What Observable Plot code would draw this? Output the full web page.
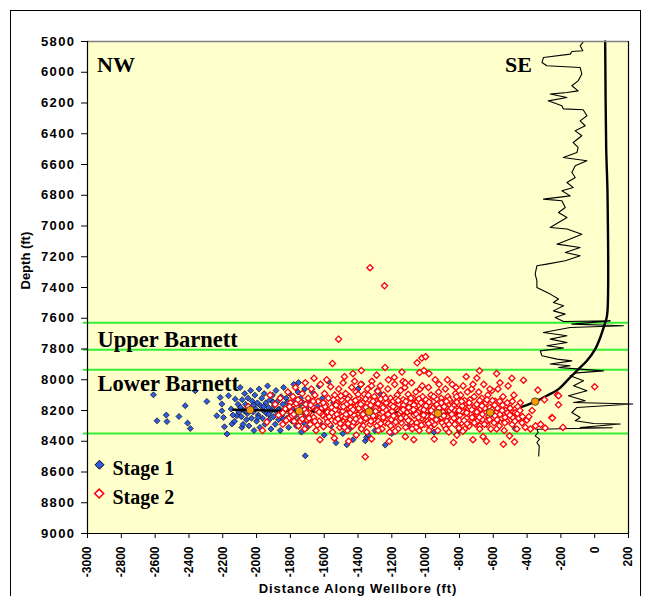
<!DOCTYPE html>
<html><head><meta charset="utf-8">
<script src="https://cdn.jsdelivr.net/npm/d3@7"></script>
<script src="https://cdn.jsdelivr.net/npm/@observablehq/plot@0.6"></script>
<style>
body{margin:0;background:#fff;}
#wrap{position:relative;width:645px;height:596px;overflow:hidden;background:#fff;}
#wrap svg{position:absolute;left:0;top:0;}
#border{position:absolute;left:10px;top:10px;width:631px;height:640px;border:1.3px solid #000;box-sizing:border-box;pointer-events:none;}
</style></head><body><div id="wrap"><div id="border"></div></div>
<script>
// ---- data ----
const xTicks = [-3000,-2800,-2600,-2400,-2200,-2000,-1800,-1600,-1400,-1200,-1000,-800,-600,-400,-200,0,200];
const yTicks = [5800,6000,6200,6400,6600,6800,7000,7200,7400,7600,7800,8000,8200,8400,8600,8800,9000];
const seriesNames = ["Stage 1","Stage 2"];
const zoneNames = ["Upper Barnett","Lower Barnett"];
const sideNames = ["NW","SE"];
const formationTops = [7630, 7805, 7935, 8350];
const perfX = [-2038,-1748,-1334,-927,-618,-352];
const perfDepth = [8197,8204,8208,8219,8213,8142];
const wellbore = [[62,5800],[68,6490],[76,6800],[76,7550],[70,7600],[62,7628],[33,7725],[3,7801],[-46,7877],[-96,7931],[-155,7996],[-214,8061],[-283,8104],[-352,8142],[-441,8180],[-519,8200],[-618,8213],[-927,8219],[-1334,8208],[-1748,8204],[-2038,8197],[-2138,8195]];
const gammaLog = [[-66,5800],[-86,5828],[-70,5860],[-135,5865],[-145,5882],[-303,5904],[-312,5937],[-283,5958],[-86,5969],[-76,6012],[-98,6056],[-135,6088],[-98,6121],[-164,6132],[-263,6142],[-164,6164],[-275,6186],[-194,6218],[-186,6238],[-68,6244],[-46,6283],[-86,6316],[-56,6348],[-115,6381],[-76,6413],[-127,6457],[-98,6489],[-105,6522],[-186,6554],[-46,6576],[-115,6608],[-135,6652],[-115,6685],[-164,6717],[-127,6750],[-194,6771],[-145,6804],[-303,6825],[-194,6836],[-174,6880],[-214,6912],[-164,6945],[-214,6977],[-263,7010],[-164,7020],[-76,7053],[-145,7085],[-223,7118],[-86,7140],[-174,7172],[-86,7194],[-174,7226],[-283,7248],[-342,7259],[-352,7313],[-342,7356],[-342,7400],[-263,7443],[-214,7475],[-244,7498],[-184,7519],[-244,7552],[-174,7573],[-234,7595],[-184,7621],[92,7617],[-135,7638],[170,7649],[-145,7660],[-303,7693],[-164,7714],[-263,7736],[-164,7758],[-283,7779],[-184,7794],[-322,7812],[-312,7844],[-223,7866],[-135,7877],[-263,7898],[-145,7909],[-214,7920],[-86,7931],[52,7942],[-105,7955],[-145,7974],[-66,8007],[-125,8039],[-46,8072],[-155,8104],[-56,8137],[-125,8148],[225,8158],[-105,8180],[-135,8213],[-86,8246],[-115,8267],[-7,8285],[151,8288],[-86,8311],[104,8312],[-342,8322],[-334,8343],[-352,8365],[-326,8386],[-342,8408],[-328,8430],[-331,8495]];
const stage1 = [[-2610,8098],[-2589,8267],[-2534,8230],[-2530,8272],[-2459,8239],[-2422,8169],[-2408,8282],[-2392,8317],[-2363,8072],[-2294,8141],[-2235,8234],[-2215,8115],[-2205,8158],[-2205,8202],[-2196,8245],[-2190,8306],[-2175,8353],[-2166,8104],[-2146,8288],[-2126,8126],[-2116,8234],[-2097,8050],[-2087,8310],[-1752,8018],[-1712,8495],[-1466,8423],[-1357,8397],
[-2150,8190],[-2140,8230],[-2130,8270],[-2110,8160],[-2105,8210],
[-2095,8180],[-2090,8240],[-2085,8130],[-2080,8290],[-2075,8200],[-2070,8090],[-2065,8160],[-2060,8260],[-2055,8220],[-2050,8120],[-2045,8300],[-2040,8180],[-2035,8070],[-2030,8250],[-2025,8140],[-2020,8210],[-2015,8330],[-2010,8100],[-2005,8190],[-2000,8270],[-1995,8150],[-1990,8230],[-1985,8060],[-1980,8310],[-1975,8170],[-1970,8120],[-1965,8250],[-1960,8200],[-1955,8090],[-1950,8290],[-1945,8150],[-1940,8220],[-1935,8040],[-1930,8180],[-1925,8260],[-1920,8130],[-1915,8320],[-1910,8200],[-1905,8100],[-1900,8240],[-1895,8170],[-1890,8290],[-1885,8070],[-1880,8210],[-1875,8140],[-1870,8260],[-1865,8190],[-1860,8330],[-1855,8110],[-1850,8230],[-1845,8160],[-1840,8050],[-1835,8280],[-1830,8200],[-1825,8120],[-1820,8250],[-1815,8180],[-1810,8310],[-1805,8090],[-1800,8220],[-1795,8150],[-1790,8270],[-1785,8190],[-1780,8030],[-1775,8240],[-1770,8130],[-1765,8300],[-1760,8210],[-1755,8080],[-1750,8170],[-1745,8260],[-1740,8120],[-1735,8340],[-1730,8200],[-1725,8150],[-1720,8280],[-1715,8060],[-1710,8230],[-1705,8180],[-1700,8310],
[-2062,8205],[-2018,8165],[-1992,8245],[-1958,8175],[-1928,8225],[-1902,8145],[-1872,8195],[-1842,8255],[-1818,8145],[-1788,8225],
[-1690,8140],[-1680,8250],[-1670,8080],[-1660,8200],[-1650,8330],[-1640,8170],[-1630,8040],[-1620,8290],[-1610,8120],[-1600,8360],[-1590,8230],[-1575,8010],[-1560,8300],[-1545,8150],[-1530,8410],[-1510,8260],[-1490,8350],[-1470,8100],[-1450,8320],[-1430,8390],[-1400,8060],[-1377,8028],[-1288,8072],[-1268,8093],[-1350,8375],[-1340,8360],[-1239,8425],[-1300,8330],[-578,8267],[-470,8319],[-1100,8300],[-950,8340],[-800,8330],[-1200,8350]];
const stage2 = [[-1890,8160],[-1870,8230],[-1860,8120],[-1845,8290],[-1830,8190],[-1815,8080],[-1808,8250],[-1800,8150],[-1939,8275],[-2049,8175],[-1965,8330],[-1920,8100],
[-1795,8210],[-1785,8110],[-1778,8270],[-1770,8050],[-1760,8180],[-1752,8300],[-1745,8140],[-1738,8235],[-1730,8090],[-1722,8200],[-1715,8320],[-1708,8160],[-1702,8260],[-1712,8020],
[-1695,8120],[-1690,8215],[-1683,8290],[-1676,8060],[-1670,8175],[-1662,8245],[-1655,8100],[-1648,8330],[-1642,8200],[-1636,8140],[-1630,8270],[-1622,8030],[-1615,8185],[-1610,8230],[-1604,8305],[-1660,7990],[-1625,8390],
[-1598,8090],[-1592,8160],[-1587,8250],[-1580,8210],[-1575,8120],[-1568,8290],[-1562,8045],[-1556,8180],[-1550,8340],[-1545,8235],[-1538,8100],[-1532,8270],[-1527,8150],[-1520,8200],[-1514,8060],[-1508,8310],[-1503,8175],[-1551,7894],[-1515,7736],[-1585,8000],[-1540,8380],
[-1497,8130],[-1492,8240],[-1488,8020],[-1483,8195],[-1478,8290],[-1473,8090],[-1468,8160],[-1462,8330],[-1457,8220],[-1452,8110],[-1447,8260],[-1442,8180],[-1437,8050],[-1432,8300],[-1427,8145],[-1422,8230],[-1417,8200],[-1412,8080],[-1407,8275],[-1402,8165],[-1480,7980],[-1430,7960],[-1455,8400],[-1410,8360],
[-1398,8120],[-1393,8250],[-1388,8200],[-1383,8030],[-1378,8310],[-1373,8150],[-1368,8270],[-1363,8095],[-1358,8215],[-1353,8180],[-1348,8340],[-1343,8060],[-1338,8240],[-1333,8130],[-1328,8290],[-1323,8200],[-1318,8010],[-1313,8170],[-1308,8260],[-1303,8110],[-1357,8501],[-1380,7940],[-1329,7271],[-1320,8385],
[-1298,8230],[-1293,8140],[-1288,8300],[-1283,8075],[-1278,8190],[-1273,8250],[-1268,8040],[-1263,8165],[-1258,8320],[-1253,8210],[-1248,8100],[-1243,7389],[-1238,8280],[-1233,8150],[-1228,8230],[-1223,8060],[-1218,8190],[-1213,8340],[-1208,8120],[-1203,8260],[-1290,7970],[-1240,7920],[-1215,8400],
[-1198,8205],[-1193,8140],[-1188,8290],[-1183,8030],[-1178,8180],[-1173,8250],[-1168,8100],[-1163,8320],[-1158,8160],[-1153,8220],[-1148,8070],[-1143,8280],[-1138,8190],[-1133,8130],[-1128,8240],[-1123,8050],[-1118,8310],[-1113,8170],[-1108,8210],[-1103,8095],[-1185,7985],[-1140,7950],[-1120,8370],
[-1098,8260],[-1093,8150],[-1088,8200],[-1083,8020],[-1078,8300],[-1073,8120],[-1068,8230],[-1063,8180],[-1058,8080],[-1053,8280],[-1048,8140],[-1043,8210],[-1038,8330],[-1033,8060],[-1028,8190],[-1023,8250],[-1018,8110],[-1013,8165],[-1008,8290],[-1003,8220],[-1050,7890],[-1010,7940],[-1070,8390],[-1022,7859],[-1036,7953],[-1134,8011],
[-998,8130],[-993,8200],[-988,8270],[-983,8050],[-978,8170],[-973,8310],[-968,8100],[-963,8240],[-958,8185],[-953,8140],[-948,8290],[-943,8000],[-938,8220],[-933,8160],[-928,8330],[-923,8080],[-918,8250],[-913,8195],[-908,8120],[-903,8280],[-980,7960],[-949,8386],[-1000,7850],
[-898,8210],[-893,8150],[-888,8300],[-883,8060],[-878,8180],[-873,8240],[-868,8110],[-863,8340],[-858,8200],[-853,8140],[-848,8270],[-843,8030],[-838,8220],[-833,8170],[-828,8290],[-823,8090],[-818,8250],[-813,8190],[-808,8130],[-803,8315],[-871,8000],[-835,8408],[-815,8360],
[-798,8230],[-793,8100],[-788,8280],[-783,8170],[-778,8040],[-773,8210],[-768,8320],[-763,8150],[-758,8250],[-753,8080],[-748,8190],[-743,8300],[-738,8130],[-733,8220],[-728,8060],[-723,8270],[-718,8180],[-713,8110],[-708,8240],[-703,8290],[-760,7980],[-720,8390],
[-698,8160],[-692,8230],[-686,8080],[-681,7942],[-697,7989],[-680,8300],[-674,8190],[-668,8120],[-662,8260],[-656,8030],[-650,8210],[-644,8150],[-638,8290],[-632,8100],[-626,8240],[-620,8180],[-614,8320],[-608,8070],[-602,8250],[-640,8400],[-660,8370],
[-595,8280],[-588,8140],[-580,8210],[-572,8060],[-565,8300],[-557,8180],[-550,8250],[-542,8110],[-535,8330],[-527,8200],[-520,8270],[-512,8040],[-505,8160],[-580,7960],[-540,8420],[-504,8365],
[-497,8230],[-488,8290],[-478,8100],[-474,8404],[-470,8190],[-460,8320],[-450,8250],[-440,8150],[-430,8280],[-421,8003],[-410,8310],[-490,7990],[-401,8262],
[-390,8240],[-380,8320],[-370,8200],[-350,8300],[-336,8067],[-320,8290],[-297,8130],[-293,8314],[-253,8246],[-250,8249],[-220,8098],[-214,8163],[-214,8104],[-188,8310],[0,8046],
[-1490,8205],[-1475,8245],[-1460,8125],[-1445,8215],[-1425,8275],[-1415,8135],[-1395,8185],[-1385,8265],[-1370,8225],[-1355,8125],[-1340,8205],[-1325,8165],[-1310,8235],[-1295,8185],[-1280,8270],[-1265,8125],[-1250,8245],[-1235,8195],[-1220,8285],[-1205,8165],[-1190,8235],[-1175,8125],[-1160,8265],[-1145,8205],[-1130,8165],[-1115,8245],[-1100,8180],[-1085,8275],[-1070,8165],[-1055,8225],[-1040,8125],[-1025,8295],[-1010,8195],[-995,8235],[-980,8145],[-965,8275],[-950,8215],[-935,8125],[-920,8185],[-905,8245],[-890,8175],[-875,8270],[-860,8130],[-845,8225],[-830,8195],[-815,8145],[-800,8265],[-785,8205],[-770,8135],[-755,8285],[-740,8175],[-725,8245],[-710,8205],[-695,8270],[-680,8135],[-665,8225],[-650,8185],[-635,8265],[-620,8215],[-605,8135],[-590,8235],[-575,8185],[-560,8225],[-545,8165],[-530,8245],[-515,8215],[-500,8185],[-485,8245],[-470,8215],[-455,8175],
[-1790,8235],[-1765,8155],[-1740,8270],[-1715,8195],[-1690,8250],[-1665,8140],[-1640,8295],[-1620,8215],[-1595,8175],[-1570,8240],[-1545,8130],[-1525,8225],[-1505,8285],
[-1535,8195],[-1518,8255],[-1502,8105],[-1486,8175],[-1471,8225],[-1458,8285],[-1444,8145],[-1429,8195],[-1413,8255],[-1399,8095],[-1384,8160],[-1369,8300],[-1354,8250],[-1339,8100],[-1324,8270],[-1311,8140],[-1296,8205],[-1281,8155],[-1266,8285],[-1252,8180],[-1237,8120],[-1222,8225],[-1207,8300],[-1192,8175],[-1177,8275],[-1162,8135],[-1147,8250],[-1132,8195],[-1117,8140],[-1102,8265],[-1087,8120],[-1072,8195],[-1057,8310],[-1042,8245],[-1027,8150],[-1012,8230],[-997,8170],[-982,8285],[-967,8200],[-952,8110],[-937,8260],[-922,8215],[-907,8150],[-892,8235],[-877,8140],[-862,8290],[-847,8185],[-832,8250],[-817,8110],[-802,8200],[-787,8140],[-772,8265],[-757,8215],[-742,8150],[-727,8195],[-712,8280],[-697,8210],[-682,8245],[-667,8170],[-652,8290],[-637,8130],[-622,8260],[-607,8195],[-592,8165],[-577,8260],[-562,8140],[-547,8200],[-532,8280],[-517,8150],[-502,8230],[-487,8140],[-472,8270],[-457,8220],[-442,8200],[-427,8240],
[-1845,8215],[-1825,8265],[-1805,8175],[-1780,8225],[-1755,8130],[-1730,8255],[-1705,8215],[-1680,8165],[-1655,8270],[-1630,8210],[-1605,8150],[-1580,8275],[-1555,8215],[-1530,8165],
[-1480,8310],[-1380,8320],[-1280,8330],[-1180,8335],[-1080,8320],[-980,8330],[-880,8320],[-780,8335],[-680,8320],[-580,8320],
[-1420,8010],[-1320,8040],[-1220,8000],[-1120,8020],[-1020,8040],[-920,8030],[-820,8050],[-720,8030],[-620,8060],[-560,8020]];

const perfs = perfX.map((x, i) => ({x, d: perfDepth[i]}));
const serif = "'Liberation Serif','Times New Roman',serif";
const sans = "Arial,'Liberation Sans',sans-serif";
const blue = "#2f5ce0", red = "#ff0000";

const chart = Plot.plot({
  width: 645, height: 596,
  marginLeft: 87, marginRight: 17, marginTop: 41, marginBottom: 63,
  style: {background: "transparent", fontFamily: sans, color: "#000"},
  x: {domain: [-3000, 200]},
  y: {domain: [5800, 9000], reverse: true},
  marks: [
    Plot.frame({fill: "#ffffcc", stroke: null}),
    Plot.ruleY(formationTops, {x1: -3025, x2: 200, stroke: "#33ee33", strokeWidth: 2}),
    Plot.line(gammaLog, {x: d => d[0], y: d => d[1], stroke: "#000", strokeWidth: 1.1}),
    Plot.dot(stage1, {x: d => d[0], y: d => d[1], symbol: "diamond2", r: 2.7, fill: blue, stroke: "#000", strokeWidth: 0.7}),
    Plot.line(wellbore, {x: d => d[0], y: d => d[1], stroke: "#000", strokeWidth: 2.4, curve: "catmull-rom"}),
    Plot.dot(stage2, {x: d => d[0], y: d => d[1], symbol: "diamond2", r: 2.8, fill: "#fff", stroke: red, strokeWidth: 1.3}),
    Plot.dot(perfs, {x: "x", y: "d", r: 3.8, fill: "#ff9900", stroke: "#333", strokeWidth: 0.8}),
    Plot.ruleY([5800], {stroke: "#808080", strokeWidth: 1.5}),
    Plot.ruleX([200], {stroke: "#000", strokeWidth: 1.2}),
    Plot.ruleX([-3000], {stroke: "#000", strokeWidth: 1.2}),
    Plot.ruleY([9000], {stroke: "#000", strokeWidth: 1.2}),
    Plot.axisY({ticks: yTicks, tickFormat: d => String(d), tickSize: 6, tickPadding: 6, fontSize: 13, fontWeight: "bold", label: null}),
    Plot.axisX({ticks: xTicks, tickFormat: d => String(d), tickSize: 5, tickPadding: 8, tickRotate: -90, fontSize: 12, fontWeight: "bold", label: null}),
    Plot.text(["Depth (ft)"], {frameAnchor: "left", dx: -62, dy: 2, rotate: -90, text: d => d, fontSize: 13, fontWeight: "bold", fontFamily: sans}),
    Plot.text(["Distance Along Wellbore (ft)"], {frameAnchor: "bottom", lineAnchor: "middle", dy: 55, text: d => d, fontSize: 13, fontWeight: "bold", fontFamily: sans}),
    Plot.text([sideNames[0]], {frameAnchor: "top-left", textAnchor: "start", lineAnchor: "middle", dx: 9.5, dy: 23, text: d => d, fontSize: 22, fontWeight: "bold", fontFamily: serif}),
    Plot.text([sideNames[1]], {frameAnchor: "top-left", textAnchor: "start", lineAnchor: "middle", dx: 417.5, dy: 23, text: d => d, fontSize: 22, fontWeight: "bold", fontFamily: serif}),
    Plot.text([zoneNames[0]], {frameAnchor: "top-left", textAnchor: "start", lineAnchor: "middle", dx: 10, dy: 298.5, text: d => d, fontSize: 22.5, fontWeight: "bold", fontFamily: serif}),
    Plot.text([zoneNames[1]], {frameAnchor: "top-left", textAnchor: "start", lineAnchor: "middle", dx: 10, dy: 342.3, text: d => d, fontSize: 22.5, fontWeight: "bold", fontFamily: serif}),
    Plot.dot([seriesNames[0]], {x: () => -2929, y: () => 8553, symbol: "diamond2", r: 4, fill: blue, stroke: "#000", strokeWidth: 1}),
    Plot.dot([seriesNames[1]], {x: () => -2931, y: () => 8740, symbol: "diamond2", r: 4, fill: "#fff", stroke: red, strokeWidth: 1.6}),
    Plot.text([seriesNames[0]], {frameAnchor: "top-left", textAnchor: "start", lineAnchor: "middle", dx: 25, dy: 427.4, text: d => d, fontSize: 20, fontWeight: "bold", fontFamily: serif}),
    Plot.text([seriesNames[1]], {frameAnchor: "top-left", textAnchor: "start", lineAnchor: "middle", dx: 25, dy: 456.5, text: d => d, fontSize: 20, fontWeight: "bold", fontFamily: serif})
  ]
});
d3.select(chart).selectAll("g[aria-label='y-axis tick label'] text").style("letter-spacing", "1.4px");
d3.select(chart).selectAll("g[aria-label='text'] text").filter(function(){return this.textContent === "Distance Along Wellbore (ft)";}).style("letter-spacing", "0.9px");
document.getElementById("wrap").prepend(chart);
</script></body></html>
